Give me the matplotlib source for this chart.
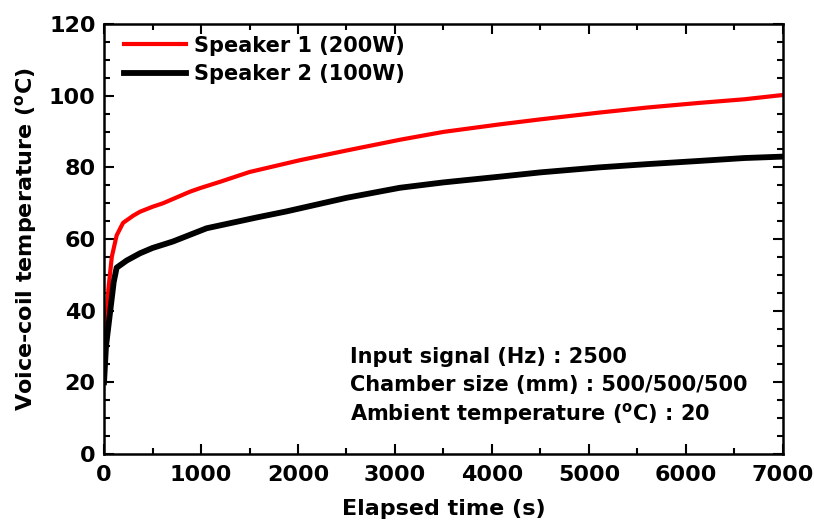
import matplotlib
matplotlib.use("Agg")
import matplotlib.pyplot as plt
from matplotlib.ticker import MultipleLocator

plt.rcParams['font.family'] = ['DejaVu Sans']
plt.rcParams['font.weight'] = 'bold'
plt.rcParams['mathtext.fontset'] = 'custom'
plt.rcParams['mathtext.rm'] = 'DejaVu Sans:bold'
plt.rcParams['mathtext.it'] = 'DejaVu Sans:bold'
plt.rcParams['mathtext.bf'] = 'DejaVu Sans:bold'

# speaker 1 (200W)
time_s1 = [0, 20, 45, 80, 130, 196, 300, 370, 500, 610, 885, 990, 1200, 1500,
           2020, 2500, 3050, 3500, 4080, 4500, 5110, 5600, 6140, 6600, 7000]
temp_s1 = [20, 35, 46, 55, 61, 64.5, 66.5, 67.6, 69, 70, 73.2, 74.2, 76, 78.7,
           82, 84.7, 87.7, 89.9, 92, 93.4, 95.3, 96.7, 98, 99, 100.2]

# speaker 2 (100W)
time_s2 = [0, 20, 60, 100, 130, 234, 370, 500, 710, 1058, 1572, 1880, 2500,
           3050, 3500, 4080, 4500, 5110, 5600, 6140, 6600, 7000]
temp_s2 = [20, 30, 39, 48, 52, 54, 56, 57.5, 59.3, 63, 66, 67.7, 71.5,
           74.3, 75.8, 77.4, 78.6, 80, 80.9, 81.8, 82.6, 83]

labels = ['Speaker 1 (200W)', 'Speaker 2 (100W)']
notes = ['Input signal (Hz) : 2500',
         'Chamber size (mm) : 500/500/500',
         r'Ambient temperature ($^{o}$C) : 20']

fig = plt.figure(figsize=(8.14, 5.23), dpi=100)
ax = fig.add_axes([0.1278, 0.132, 0.834, 0.822])

ax.plot(time_s1, temp_s1, color='#ff0000', lw=3, label=labels[0])
ax.plot(time_s2, temp_s2, color='black', lw=4.2, label=labels[1])

ax.set_xlim(0, 7000)
ax.set_ylim(0, 120)
ax.xaxis.set_major_locator(MultipleLocator(1000))
ax.xaxis.set_minor_locator(MultipleLocator(500))
ax.yaxis.set_major_locator(MultipleLocator(20))
ax.yaxis.set_minor_locator(MultipleLocator(5))
ax.tick_params(which='both', direction='in', top=True, right=True,
               width=1.5, labelsize=16)
ax.tick_params(axis='x', pad=8)
ax.tick_params(axis='y', pad=6)
ax.tick_params(which='major', length=7)
ax.tick_params(which='minor', length=4)
for sp in ax.spines.values():
    sp.set_linewidth(1.8)

ax.set_xlabel('Elapsed time (s)', fontsize=16, fontweight='bold', labelpad=10)
ax.set_ylabel(r'Voice-coil temperature ($^{o}$C)', fontsize=16,
              fontweight='bold', labelpad=7)

leg = ax.legend(loc='upper left', frameon=False, fontsize=15,
                handlelength=3.0, handletextpad=0.4, labelspacing=0.42,
                borderaxespad=0.3, bbox_to_anchor=(0.0074, 1.007))

for i, txt in enumerate(notes):
    ax.text(0.363, 0.2256 - i * 0.0663, txt, transform=ax.transAxes,
            fontsize=15, fontweight='bold', va='center')

fig.savefig('out.png', dpi=100)
